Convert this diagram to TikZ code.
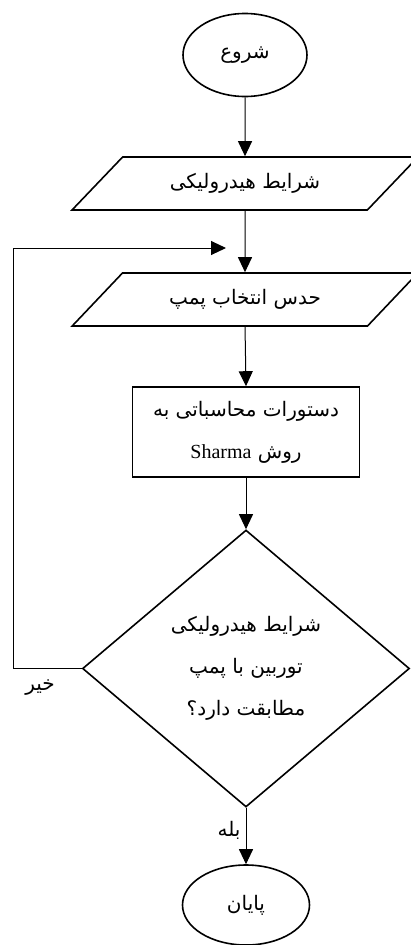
\documentclass[tikz,border=0pt]{standalone}
\usepackage{fontspec}
\setmainfont{Liberation Serif}
\newfontfamily\arabicfont[Script=Arabic]{DejaVu Sans}
\TeXXeTstate=1
\usetikzlibrary{shapes.geometric, arrows.meta}
\newcommand{\fa}[1]{{\arabicfont\beginR #1\endR}}
\tikzset{
  flow node/.style={
    draw,
    line width=1.6pt,
    align=center,
    inner sep=2pt,
    font=\fontsize{20}{42}\selectfont,
  },
  term node/.style={flow node, ellipse, minimum width=124pt, minimum height=83pt},
  data node/.style={flow node, trapezium, trapezium left angle=37,
    trapezium right angle=143, trapezium stretches=true,
    minimum width=346pt, minimum height=53pt},
  proc node/.style={flow node, rectangle, minimum width=227pt, minimum height=90pt},
  test node/.style={flow node, diamond, minimum width=327pt, minimum height=277pt},
  flow arrow/.style={line width=1pt, -{Triangle[width=14pt,length=15pt]}},
  edge label/.style={font=\fontsize{20}{24}\selectfont},
}

\begin{document}
\begin{tikzpicture}[x=1pt, y=-1pt]
        \useasboundingbox (0,0) rectangle (411,945);

        \node[term node] (start) at (245,55) {\fa{شروع}};
        \node[data node] (hydro) at (245,183.5) {\fa{شرایط هیدرولیکی}};
        \node[data node] (guess) at (245,299.5) {\fa{حدس انتخاب پمپ}};
        \node[proc node] (calc) at (246,432) {\fa{دستورات محاسباتی به}\\
          \fa{روش \beginL{\rmfamily Sharma}\endL}};
        \node[test node] (check) at (246,668.5) {\fa{شرایط هیدرولیکی}\\
          \fa{توربین با پمپ}\\\fa{مطابقت دارد؟}};
        \node[term node, minimum width=127pt, minimum height=80pt] (stop) at (246,905) {\fa{پایان}};

        \coordinate (loop low) at (13,668.5);
        \coordinate (loop high) at (13,248);
        \coordinate (loop end) at (226,248);

        \draw[flow arrow] (start) -- (hydro);
        \draw[flow arrow] (hydro) -- (guess);
        \draw[flow arrow] (guess.south) -- (calc.north);
        \draw[flow arrow] (calc) -- (check);
        \draw[flow arrow] (check) -- (stop);
        \draw[flow arrow] (check.west) -- (loop low) -- (loop high) -- (loop end);

        \node[edge label] (no) at (40,688) {\fa{خیر}};
        \node[edge label] (yes) at (229,830) {\fa{بله}};
      \end{tikzpicture}
\end{document}
